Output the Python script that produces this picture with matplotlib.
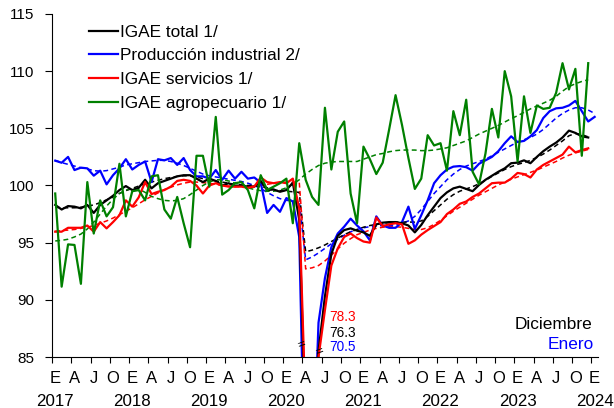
import numpy as np
import matplotlib
matplotlib.use("Agg")
import matplotlib.pyplot as plt
import matplotlib.transforms as mtransforms

plt.rcParams['font.family'] = ['Liberation Sans', 'DejaVu Sans']

# monthly series, Jan 2017 onwards
total = [98.3, 97.9, 98.2, 98.15, 98.0, 98.3, 97.6, 98.3, 98.7, 99.1, 99.6, 99.95,
         99.6, 99.8, 100.5, 99.75, 100.2, 100.4, 100.6, 100.8, 100.9, 100.9, 100.6, 100.3,
         100.6, 100.4, 100.0, 100.2, 99.95, 100.0, 99.9, 99.9, 100.4, 99.6, 99.65, 99.45,
         99.6, 100.25, 97.0, 78.4, 76.3, 85.5, 90.3, 94.0, 95.6, 96.1, 96.25, 96.05,
         95.9, 95.6, 96.6, 96.75, 96.8, 96.8, 96.7, 96.5, 95.9, 96.55, 97.4, 98.15,
         98.9, 99.4, 99.75, 99.9, 99.7, 99.5, 100.05, 100.5, 100.85, 101.2, 101.5, 101.95,
         102.0, 102.2, 101.95, 102.5, 103.0, 103.4, 103.75, 104.2, 104.8, 104.6, 104.3, 104.2]
industrial = [102.17, 101.99, 102.5, 101.35, 101.56, 101.5, 100.86, 101.3, 100.1, 100.9, 101.5, 102.3,
              101.4, 101.8, 102.1, 100.3, 102.3, 102.2, 102.4, 101.8, 102.4, 101.35, 100.8, 100.8,
              100.6, 101.35, 100.5, 101.3, 100.6, 101.2, 100.6, 100.7, 100.25, 97.6, 98.3, 97.7,
              98.9, 98.6, 95.5, 70.5, 72.6, 88.0, 91.9, 94.6, 95.8, 96.4, 97.1, 96.5,
              96.0, 95.2, 97.3, 96.5, 96.3, 96.3, 96.8, 98.15, 96.2, 97.4, 98.7, 100.2,
              100.9, 101.4, 101.65, 101.7, 101.6, 101.3, 101.9, 102.2, 102.5, 103.0, 103.7, 104.3,
              103.8, 103.9, 104.3, 104.85, 105.9, 106.5, 106.75, 106.8, 107.0, 107.4, 106.5, 105.6,
              106.0]
services = [95.96, 95.96, 96.3, 96.3, 96.3, 96.5, 95.96, 96.8, 96.25, 96.8, 97.4, 98.7,
            98.15, 98.96, 100.3, 99.25, 99.45, 99.6, 99.9, 100.4, 100.5, 100.4, 100.0, 99.3,
            100.0, 100.2, 100.0, 99.9, 99.9, 99.9, 99.8, 99.9, 100.7, 100.3, 100.2, 100.3,
            100.2, 100.6, 98.0, 80.2, 78.3, 85.0, 89.1, 93.0, 94.5, 95.5, 95.8, 95.4,
            95.1, 95.0, 97.2, 96.45, 96.6, 96.7, 96.6, 94.9, 95.2, 95.7, 96.1, 96.45,
            96.8, 97.5, 97.9, 98.4, 98.6, 99.0, 99.3, 99.75, 100.2, 100.25, 100.25, 100.6,
            101.1, 101.0, 100.7, 101.4, 101.8, 102.1, 102.4, 102.7, 103.4, 102.9, 103.1, 103.25]
agro = [99.3, 91.15, 94.85, 94.8, 91.4, 100.3, 95.8, 98.7, 97.3, 98.1, 101.9, 97.3,
        99.5, 99.6, 98.7, 100.8, 100.9, 97.9, 97.1, 99.0, 96.7, 94.6, 102.6, 102.6,
        99.9, 106.0, 99.2, 99.6, 100.2, 100.3, 99.6, 98.0, 100.9, 99.6, 99.9, 100.2,
        100.6, 96.7, 103.7, 100.5, 99.0, 98.3, 106.8, 101.4, 104.7, 105.6, 99.3, 96.7,
        103.4, 102.3, 101.0, 102.0, 104.9, 107.9, 105.3, 102.4, 99.7, 100.6, 104.4, 103.5,
        103.7, 101.3, 106.5, 104.4, 107.5, 101.2, 100.1, 102.8, 106.7, 104.2, 110.0, 107.8,
        102.1, 107.8, 104.6, 107.0, 106.7, 106.8, 108.1, 110.7, 108.4, 110.2, 102.6, 110.7]

# trend-cycle (dashed)
total_tr = [98.1, 98.05, 98.05, 98.05, 98.1, 98.2, 98.3, 98.5, 98.75, 99.0, 99.3, 99.55,
            99.75, 99.95, 100.15, 100.3, 100.45, 100.6, 100.7, 100.8, 100.85, 100.85, 100.75, 100.6,
            100.5, 100.4, 100.3, 100.2, 100.1, 100.05, 100.0, 100.0, 99.9, 99.8, 99.65, 99.55,
            99.5, 99.45, 99.4, 94.2, 94.35, 94.55, 94.8, 95.1, 95.4, 95.7, 95.95, 96.15,
            96.35, 96.5, 96.6, 96.7, 96.75, 96.8, 96.8, 96.8, 96.8, 96.9, 97.3, 97.8,
            98.3, 98.8, 99.2, 99.5, 99.7, 99.9, 100.15, 100.45, 100.8, 101.1, 101.4, 101.65,
            101.85, 102.0, 102.2, 102.45, 102.75, 103.1, 103.5, 103.9, 104.35, 104.55, 104.45, 104.25]
industrial_tr = [102.2, 102.0, 101.85, 101.7, 101.55, 101.45, 101.3, 101.25, 101.3, 101.45, 101.6, 101.8,
                 101.9, 102.0, 102.1, 102.15, 102.2, 102.2, 102.1, 101.95, 101.75, 101.5, 101.25, 101.0,
                 100.85, 100.75, 100.65, 100.55, 100.45, 100.35, 100.2, 100.0, 99.75, 99.4, 99.1, 98.85,
                 98.7, 98.65, 98.6, 93.5, 93.75, 94.1, 94.5, 94.9, 95.3, 95.65, 95.95, 96.15,
                 96.3, 96.4, 96.45, 96.5, 96.5, 96.55, 96.7, 96.9, 97.3, 97.9, 98.6, 99.3,
                 99.9, 100.5, 101.0, 101.4, 101.7, 101.9, 102.1, 102.3, 102.6, 102.9, 103.2, 103.5,
                 103.8, 104.0, 104.2, 104.5, 104.9, 105.4, 105.9, 106.3, 106.6, 106.8, 106.8, 106.6,
                 106.3]
services_tr = [96.0, 96.05, 96.1, 96.15, 96.25, 96.35, 96.5, 96.7, 96.9, 97.15, 97.45, 97.75,
               98.05, 98.4, 98.75, 99.05, 99.35, 99.65, 99.85, 100.05, 100.2, 100.3, 100.3, 100.25,
               100.2, 100.1, 100.0, 99.95, 99.9, 99.9, 99.9, 99.95, 100.0, 100.1, 100.2, 100.25,
               100.3, 100.3, 100.3, 92.7, 92.8, 93.0, 93.4, 93.9, 94.45, 94.95, 95.35, 95.7,
               95.9, 96.1, 96.25, 96.35, 96.4, 96.4, 96.35, 96.25, 96.15, 96.15, 96.3, 96.6,
               96.95, 97.35, 97.75, 98.1, 98.45, 98.8, 99.15, 99.45, 99.75, 100.05, 100.3, 100.55,
               100.75, 100.95, 101.15, 101.35, 101.6, 101.85, 102.1, 102.4, 102.65, 102.85, 103.0, 103.15]
agro_tr = [95.15, 95.2, 95.3, 95.5, 95.75, 96.2, 96.8, 97.5, 98.2, 98.8, 99.3, 99.6,
           99.75, 99.7, 99.4, 99.05, 98.85, 98.7, 98.65, 98.7, 98.85, 99.2, 99.6, 100.0,
           100.3, 100.5, 100.5, 100.4, 100.2, 100.0, 99.8, 99.65, 99.55, 99.5, 99.5, 99.6,
           99.8, 100.1, 100.5, 101.0, 101.4, 101.75, 101.95, 102.05, 102.1, 102.1, 102.1, 102.1,
           102.3, 102.5, 102.7, 102.8, 102.95, 103.05, 103.1, 103.1, 103.1, 103.05, 103.05, 103.1,
           103.2, 103.3, 103.5, 103.7, 103.9, 104.2, 104.5, 104.75, 105.0, 105.25, 105.55, 105.85,
           106.1, 106.4, 106.7, 106.95, 107.2, 107.45, 107.8, 108.25, 108.65, 108.9, 109.1, 109.25]

month_letters = ['E', 'A', 'J', 'O']
years = ['2017', '2018', '2019', '2020', '2021', '2022', '2023', '2024']
trough_labels = ['78.3', '76.3', '70.5']
legend_labels = ['IGAE total 1/', 'Producción industrial 2/', 'IGAE servicios 1/', 'IGAE agropecuario 1/']

fig = plt.figure(figsize=(6.14, 4.08), dpi=100)
ax = fig.add_axes([0.0847, 0.125, 0.889, 0.8407])

def xs(s):
    return np.arange(len(s)) + 0.5

dash = (0, (3.2, 2.2))
ax.plot(xs(industrial_tr), industrial_tr, color='#0000FF', lw=1.1, linestyle=dash)
ax.plot(xs(total_tr), total_tr, color='black', lw=1.1, linestyle=dash)
ax.plot(xs(services_tr), services_tr, color='#FF0000', lw=1.1, linestyle=dash)
ax.plot(xs(agro_tr), agro_tr, color='#008000', lw=1.1, linestyle=dash)

h1, = ax.plot(xs(industrial), industrial, color='#0000FF', lw=1.6)
h0, = ax.plot(xs(total), total, color='black', lw=1.6)
h2, = ax.plot(xs(services), services, color='#FF0000', lw=1.6)
h3, = ax.plot(xs(agro), agro, color='#008000', lw=1.6)

ax.set_xlim(0, 85)
ax.set_ylim(85, 115)

for s in ['top', 'right']:
    ax.spines[s].set_visible(False)

ax.set_yticks(np.arange(85, 116, 5))
ax.tick_params(axis='y', direction='out', length=5, width=0.8, pad=8, labelsize=11)

ax.set_xticks(np.arange(0, 85, 3))
ax.set_xticks(np.arange(0, 85, 3) + 0.5, minor=True)
ax.set_xticklabels([])
ax.set_xticklabels([month_letters[k % 4] for k in range(29)], minor=True)
ax.tick_params(axis='x', which='major', direction='out', length=4.5, width=0.8)
ax.tick_params(axis='x', which='minor', length=0, pad=10, labelsize=12)

trans = mtransforms.blended_transform_factory(ax.transData, ax.transAxes)
for k, yr in enumerate(years):
    ax.text(12 * k + 0.5, -0.108, yr, transform=trans, ha='center', va='top', fontsize=12.2)

# break marks on the 2020 drop
ax.text(38.85, 86.05, '=', fontsize=9.5, ha='center', va='center', rotation=20)
ax.text(41.7, 85.45, '=', fontsize=9.5, ha='center', va='center', rotation=20)

for lab, c, yv in zip(trough_labels, ['#FF0000', 'black', '#0000FF'], [88.5, 87.1, 85.85]):
    ax.text(43.25, yv, lab, color=c, fontsize=9.8, ha='left', va='center')

ax.text(84.1, 87.85, 'Diciembre', color='black', fontsize=12.4, ha='right', va='center')
ax.text(84.4, 86.05, 'Enero', color='#0000FF', fontsize=12.4, ha='right', va='center')

ax.legend([h0, h1, h2, h3], legend_labels, loc='upper left', bbox_to_anchor=(0.068, 0.969),
          frameon=False, fontsize=12.4, handlelength=1.7, handletextpad=0.12, labelspacing=0.5,
          borderaxespad=0, borderpad=0)

fig.savefig('out.png', dpi=100)
